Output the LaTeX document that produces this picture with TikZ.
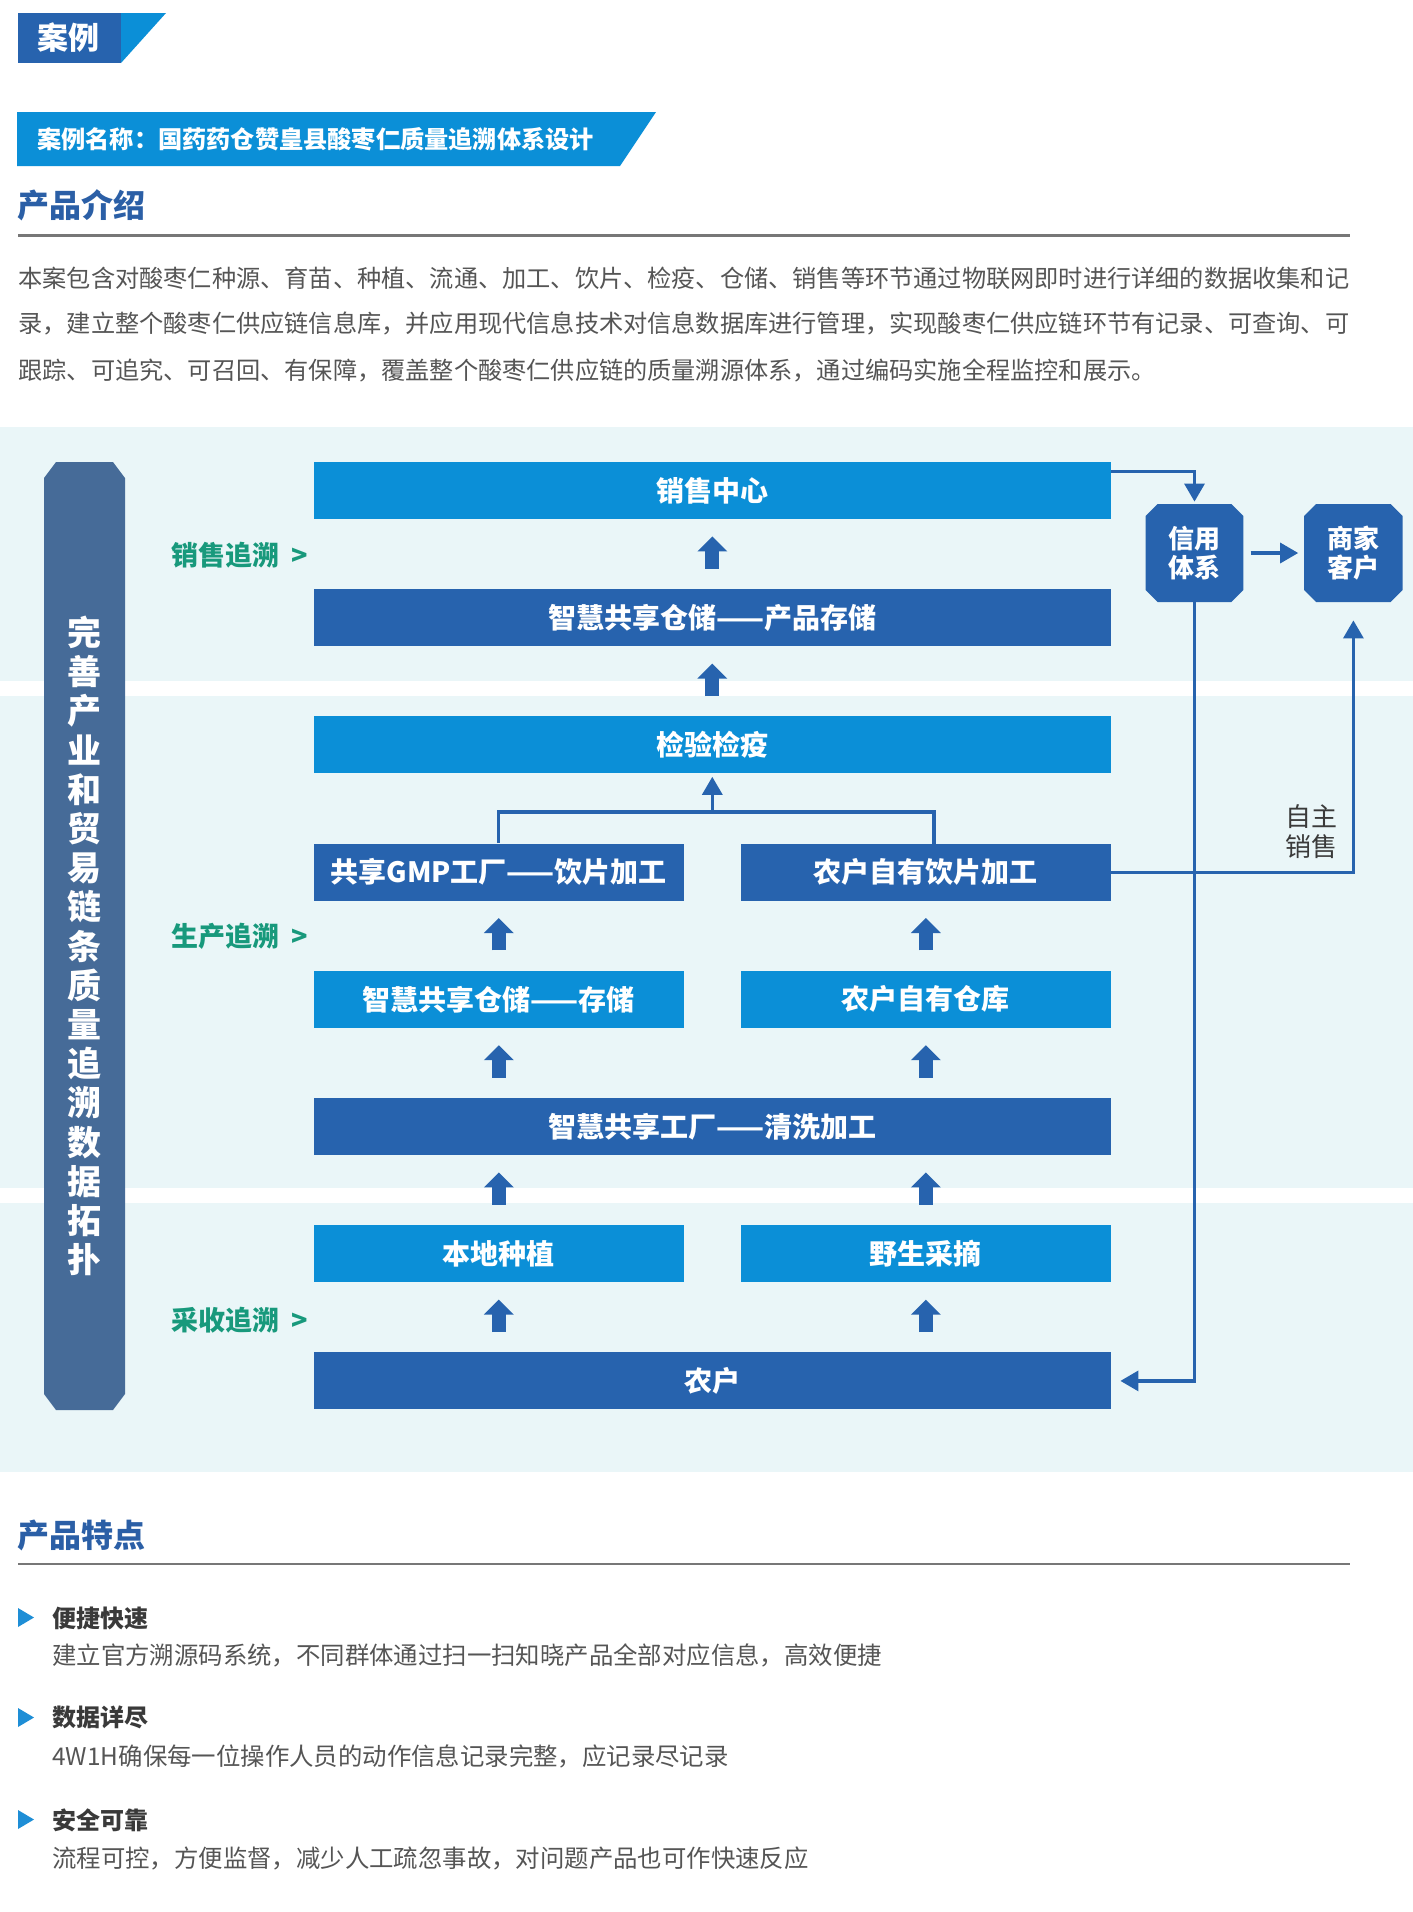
\documentclass[tikz,border=0pt]{standalone}
\usepackage{fontspec}
\setmainfont{Noto Sans CJK SC}
\usetikzlibrary{arrows.meta,calc}
\definecolor{lblue}{HTML}{0B8FD7}
\definecolor{dblue}{HTML}{2763AE}
\definecolor{bannerc}{HTML}{466B98}
\definecolor{bandbg}{HTML}{EAF6F8}
\definecolor{mygreen}{HTML}{18997C}
\definecolor{txtgray}{HTML}{555555}
\definecolor{darkgray2}{HTML}{3A3A3A}
\definecolor{linegray}{HTML}{777777}
\definecolor{headblue}{HTML}{2B5FA6}
\definecolor{bullc}{HTML}{1E8ED6}
\newcommand\fz[1]{\fontsize{#1}{#1}\selectfont}
\begin{document}
\begin{tikzpicture}[x=0.5pt,y=-0.5pt,
  box/.style={inner sep=0pt, minimum height=28.5pt, text=white, font=\fz{14pt}\bfseries},
  lbox/.style={box, fill=lblue},
  dbox/.style={box, fill=dblue},
  wide/.style={minimum width=398.7pt},
  half/.style={minimum width=185.2pt},
  fat/.style={draw=dblue, line width=7pt, -{Triangle[width=14.5pt,length=7.5pt]}, shorten >=8.5pt, shorten <=10pt},
  conn/.style={draw=dblue, line width=1.6pt},
  tip/.style={-{Triangle[width=10pt,length=9pt]}},
  para/.style={anchor=west, inner sep=0pt, text=txtgray, font=\fz{12.1pt}},
  sect/.style={anchor=west, inner sep=0pt, text=mygreen, font=\fz{13.5pt}\bfseries},
  head/.style={anchor=west, inner sep=0pt, text=headblue, font=\fz{16pt}\bfseries},
  btitle/.style={anchor=west, inner sep=0pt, text=darkgray2, font=\fz{12pt}\bfseries},
  bdesc/.style={anchor=west, inner sep=0pt, text=txtgray, font=\fz{12.2pt}},
  octtxt/.style={inner sep=0pt, minimum width=48.8pt, minimum height=49pt, text=white, align=center, font=\fontsize{13pt}{14.5pt}\selectfont\bfseries}
]
\useasboundingbox (0,0) rectangle (1413,1912);
\fill[white] (0,0) rectangle (1413,1912);

% header tag
\fill[dblue] (18,13) rectangle (121,63);
\fill[lblue] (121,13) -- (166,13) -- (121,63) -- cycle;
\node[anchor=west, inner sep=0pt, text=white, font=\fz{15.5pt}\bfseries] (casetag) at (37,38) {案例};

% title bar
\fill[lblue] (17,112) -- (656,112) -- (620,166) -- (17,166) -- cycle;
\node[anchor=west, inner sep=0pt, text=white, font=\fz{12.1pt}\bfseries] (casetitle) at (37,139) {案例名称：国药药仓赞皇县酸枣仁质量追溯体系设计};

% intro
\node[head] (h1) at (17,205) {产品介绍};
\draw[linegray, line width=1.25pt] (18,235.5) -- (1350,235.5);
\node[para] (p1) at (18,278) {本案包含对酸枣仁种源、育苗、种植、流通、加工、饮片、检疫、仓储、销售等环节通过物联网即时进行详细的数据收集和记};
\node[para] (p2) at (18,324) {录，建立整个酸枣仁供应链信息库，并应用现代信息技术对信息数据库进行管理，实现酸枣仁供应链环节有记录、可查询、可};
\node[para] (p3) at (18,370.5) {跟踪、可追究、可召回、有保障，覆盖整个酸枣仁供应链的质量溯源体系，通过编码实施全程监控和展示。};

% bands
\fill[bandbg] (0,427) rectangle (1413,681);
\fill[bandbg] (0,696) rectangle (1413,1188);
\fill[bandbg] (0,1203) rectangle (1413,1472);

% banner
\fill[bannerc] (56,462) -- (113,462) -- (125,478) -- (125,1394) -- (113,1410) -- (56,1410) -- (44,1394) -- (44,478) -- cycle;
\node[inner sep=0pt, text=white, align=center, font=\fontsize{17pt}{19.6pt}\selectfont\bfseries] (bannertxt) at (85,946)
  {完\\善\\产\\业\\和\\贸\\易\\链\\条\\质\\量\\追\\溯\\数\\据\\拓\\扑};

% section labels
\node[sect] (s1) at (171,555) {销售追溯\hspace{3pt} >};
\node[sect] (s2) at (171,936) {生产追溯\hspace{3pt} >};
\node[sect] (s3) at (171,1320) {采收追溯\hspace{3pt} >};

% boxes
\node[lbox, wide] (sale) at (712.3,490.5) {销售中心};
\node[dbox, wide] (prodst) at (712.3,617.7) {智慧共享仓储——产品存储};
\node[lbox, wide] (insp) at (712.3,744.9) {检验检疫};
\node[dbox, half] (gmp) at (498.8,872.1) {共享GMP工厂——饮片加工};
\node[dbox, half] (ownproc) at (925.85,872.1) {农户自有饮片加工};
\node[lbox, half] (store) at (498.8,999.3) {智慧共享仓储——存储};
\node[lbox, half] (ownwh) at (925.85,999.3) {农户自有仓库};
\node[dbox, wide] (wash) at (712.3,1126.5) {智慧共享工厂——清洗加工};
\node[lbox, half] (plant) at (498.8,1253.7) {本地种植};
\node[lbox, half] (wild) at (925.85,1253.7) {野生采摘};
\node[dbox, wide] (farmer) at (712.3,1380.9) {农户};

% octagons
\fill[dblue] (1157.7,504) -- (1231.3,504) -- (1243.3,516) -- (1243.3,590) -- (1231.3,602) -- (1157.7,602) -- (1145.7,590) -- (1145.7,516) -- cycle;
\node[octtxt] (credit) at (1194.5,553) {信用\\体系};
\fill[dblue] (1316,504) -- (1390.7,504) -- (1402.7,516) -- (1402.7,590) -- (1390.7,602) -- (1316,602) -- (1304,590) -- (1304,516) -- cycle;
\node[octtxt] (client) at (1353.4,553) {商家\\客户};

% fat arrows
\draw[fat] (prodst.north) -- (sale.south);
\draw[fat] (insp.north) -- (prodst.south);
\draw[fat] (store.north) -- (gmp.south);
\draw[fat] (ownwh.north) -- (ownproc.south);
\draw[fat] (wash.north -| store.south) -- (store.south);
\draw[fat] (wash.north -| ownwh.south) -- (ownwh.south);
\draw[fat] (plant.north) -- (wash.south -| plant.north);
\draw[fat] (wild.north) -- (wash.south -| wild.north);
\draw[fat] (farmer.north -| plant.south) -- (plant.south);
\draw[fat] (farmer.north -| wild.south) -- (wild.south);

% merge connector
\coordinate (mrg) at (712.3,812);
\coordinate (ownup) at (934,843.6);
\draw[conn] (gmp.north) |- (mrg) -| (ownup);
\draw[conn, tip, shorten >=1.5pt] (mrg) -- (insp.south);

% right side connectors
\draw[conn, tip, shorten >=1pt] ([yshift=-4.85pt]sale.north east) -| (credit.north);
\draw[conn, tip, shorten <=3.5pt, shorten >=3pt] (credit.east) -- (client.west);
\draw[conn, tip, shorten >=4.5pt] (credit.south) |- (farmer.east);
\draw[conn, tip, shorten >=9pt] (ownproc.east) -| (client.south);
\node[inner sep=0pt, align=center, text=darkgray2, font=\fontsize{13pt}{15pt}\selectfont] (selflbl) at (1311,832) {自主\\销售};

% features
\node[head] (h2) at (17,1535) {产品特点};
\draw[linegray, line width=1.25pt] (18,1564) -- (1350,1564);

\fill[bullc] (18,1608) -- (34,1617.5) -- (18,1627) -- cycle;
\node[btitle] (b1) at (52,1618) {便捷快速};
\node[bdesc] (d1) at (52,1655) {建立官方溯源码系统，不同群体通过扫一扫知晓产品全部对应信息，高效便捷};

\fill[bullc] (18,1708) -- (34,1717.5) -- (18,1727) -- cycle;
\node[btitle] (b2) at (52,1717) {数据详尽};
\node[bdesc] (d2) at (52,1756) {4W1H确保每一位操作人员的动作信息记录完整，应记录尽记录};

\fill[bullc] (18,1810) -- (34,1819.5) -- (18,1829) -- cycle;
\node[btitle] (b3) at (52,1820) {安全可靠};
\node[bdesc] (d3) at (52,1858) {流程可控，方便监督，减少人工疏忽事故，对问题产品也可作快速反应};
\end{tikzpicture}
\end{document}
